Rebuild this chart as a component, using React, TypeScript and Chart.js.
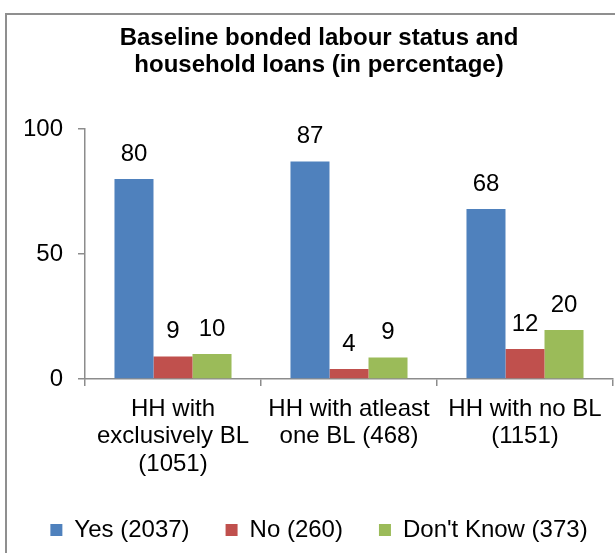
import React, { useEffect, useRef } from "react";
import { Chart, registerables } from "chart.js";

Chart.register(...registerables);

const FONT = "'Liberation Sans', Arial, sans-serif";

const titleLines = ["Baseline bonded labour status and", "household loans (in percentage)"];
const categories = [
  ["HH with", "exclusively BL", "(1051)"],
  ["HH with atleast", "one BL (468)"],
  ["HH with no BL", "(1151)"],
];
const seriesNames = ["Yes (2037)", "No (260)", "Don't Know (373)"];
const yesValues = [80, 87, 68];
const noValues = [9, 4, 12];
const dontKnowValues = [10, 8.6, 19.6];
const seriesColors = ["#4F81BD", "#C0504D", "#9BBB59"];
const yMin = 0;
const yMax = 100;
const yStep = 50;

const AXIS = "#8c8c8c";

const valueLabels = {
  id: "valueLabels",
  afterDatasetsDraw(chart: any) {
    const ctx = chart.ctx;
    ctx.save();
    ctx.font = `24px ${FONT}`;
    ctx.fillStyle = "#000";
    ctx.textAlign = "center";
    ctx.textBaseline = "middle";
    chart.data.datasets.forEach((ds: any, di: number) => {
      const meta = chart.getDatasetMeta(di);
      meta.data.forEach((el: any, i: number) => {
        const v = ds.data[i] as number;
        ctx.fillText(String(Math.round(v)), el.x, el.y - 25);
      });
    });
    ctx.restore();
  },
};

export default function App() {
  const ref = useRef<HTMLCanvasElement | null>(null);

  useEffect(() => {
    if (!ref.current) return;
    const values = [yesValues, noValues, dontKnowValues];
    const legendPads = ["   ", "   ", ""];
    const chart = new Chart(ref.current, {
      type: "bar",
      data: {
        labels: categories,
        datasets: seriesNames.map((name, i) => ({
          label: name,
          data: values[i],
          backgroundColor: seriesColors[i],
          borderWidth: 0,
          categoryPercentage: 0.665,
          barPercentage: 1,
        })),
      },
      options: {
        responsive: false,
        animation: false,
        events: [],
        layout: { padding: { left: 25, right: 2, top: 0, bottom: 1 } },
        plugins: {
          tooltip: { enabled: false },
          title: {
            display: true,
            text: titleLines,
            color: "#000",
            font: { family: FONT, size: 24, weight: "bold", lineHeight: 1.1 },
            padding: { top: 25.5, bottom: 50.7 },
          },
          legend: {
            display: true,
            position: "bottom",
            labels: {
              color: "#000",
              font: { family: FONT, size: 24 },
              boxWidth: 12,
              boxHeight: 12,
              padding: 16,
              generateLabels: (c: any) => {
                const items = (Chart.defaults.plugins.legend.labels as any).generateLabels(c);
                items.forEach((it: any, i: number) => {
                  it.text = it.text + legendPads[i];
                  it.lineWidth = 0;
                });
                return items;
              },
            },
          },
        },
        scales: {
          x: {
            offset: true,
            grid: {
              display: true,
              drawOnChartArea: false,
              drawTicks: true,
              tickLength: 7,
              color: AXIS,
              lineWidth: 1.5,
              offset: true,
            },
            border: { display: true, color: AXIS, width: 1.5 },
            ticks: {
              color: "#000",
              font: { family: FONT, size: 24, lineHeight: 1.15 },
              padding: 9.2,
              maxRotation: 0,
              minRotation: 0,
              autoSkip: false,
            },
            afterFit: (s: any) => {
              s.height = 123;
            },
          },
          y: {
            min: yMin,
            max: yMax,
            grid: {
              display: true,
              drawOnChartArea: false,
              drawTicks: true,
              tickLength: 7,
              color: AXIS,
              lineWidth: 1.5,
            },
            border: { display: true, color: AXIS, width: 1.5 },
            ticks: {
              stepSize: yStep,
              color: "#000",
              font: { family: FONT, size: 24 },
              padding: 15,
            },
            afterFit: (s: any) => {
              s.width = 60;
            },
          },
        },
      },
      plugins: [valueLabels],
    } as any);
    return () => chart.destroy();
  }, []);

  return (
    <div
      style={{
        position: "absolute",
        left: 0,
        top: 0,
        width: 615,
        height: 553,
        overflow: "hidden",
        background: "#fff",
      }}
    >
      <div
        style={{
          position: "absolute",
          left: 5,
          top: 13,
          width: 800,
          height: 800,
          borderLeft: "2px solid #8f8f8f",
          borderTop: "2px solid #8f8f8f",
        }}
      />
      <canvas
        ref={ref}
        width={615}
        height={553}
        style={{ position: "absolute", left: 0, top: 0, width: 615, height: 553 }}
      />
    </div>
  );
}
